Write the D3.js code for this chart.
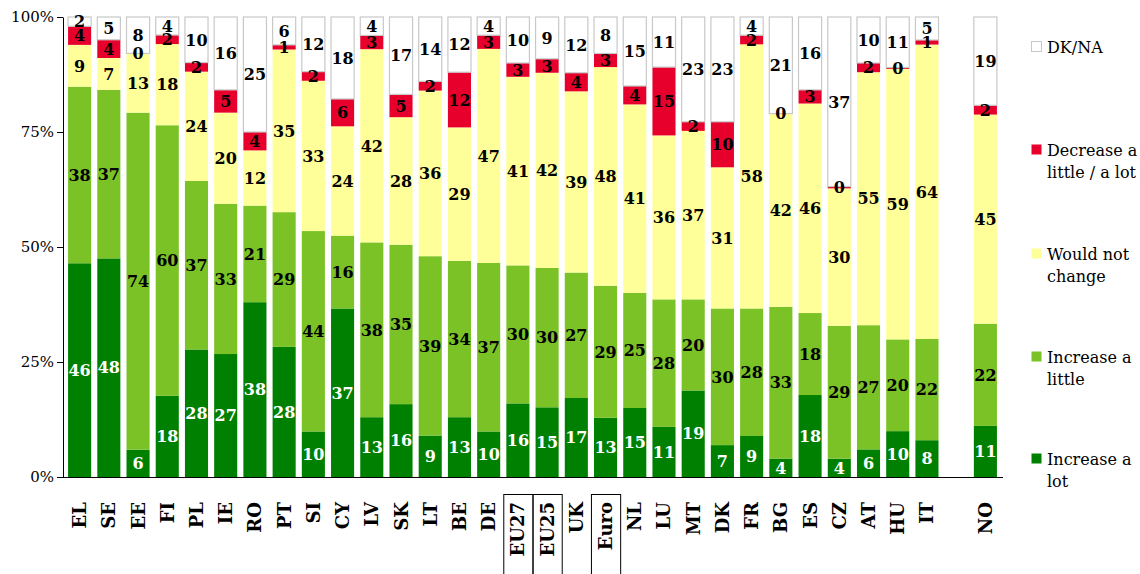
<!DOCTYPE html>
<html><head><meta charset="utf-8">
<script src="https://cdn.jsdelivr.net/npm/d3@7"></script>
<style>body{margin:0;background:#fff}svg{display:block}</style>
</head><body>
<svg id="c" width="1140" height="574"></svg>
<script>
const categories = ["EL","SE","EE","FI","PL","IE","RO","PT","SI","CY","LV","SK","LT","BE","DE","EU27","EU25","UK","Euro","NL","LU","MT","DK","FR","BG","ES","CZ","AT","HU","IT","NO"];
const increaseLot    = [46,48,6,18,28,27,38,28,10,37,13,16,9,13,10,16,15,17,13,15,11,19,7,9,4,18,4,6,10,8,11];
const increaseLittle = [38,37,74,60,37,33,21,29,44,16,38,35,39,34,37,30,30,27,29,25,28,20,30,28,33,18,29,27,20,22,22];
const wouldNot       = [9,7,13,18,24,20,12,35,33,24,42,28,36,29,47,41,42,39,48,41,36,37,31,58,42,46,30,55,59,64,45];
const decrease       = [4,4,0,2,2,5,4,1,2,6,3,5,2,12,3,3,3,4,3,4,15,2,10,2,0,3,0.4,2,0.3,1,2];
const dkna           = [2,5,8,4,10,16,25,6,12,18,4,17,14,12,4,10,9,12,8,15,11,23,23,4,21,16,37,10,11,5,19];
const seriesNames = ["Increase a lot","Increase a little","Would not change","Decrease a little / a lot","DK/NA"];
const seriesKeys = ["lot","little","same","dec","dk"];
const colors = ["#008000","#7ac226","#ffff99","#e8002d","#ffffff"];
const boxed = ["EU27","EU25","Euro"];
const yTicks = [0,0.25,0.5,0.75,1];
const yTickLabels = ["0%","25%","50%","75%","100%"];

const rows = categories.map((c,i)=>({cat:c, lot:increaseLot[i], little:increaseLittle[i], same:wouldNot[i], dec:decrease[i], dk:dkna[i]}));
const stack = d3.stack().keys(seriesKeys).offset(d3.stackOffsetExpand);
const layers = stack(rows);

const svg = d3.select("#c");
const serif = "'DejaVu Serif', serif";
const domain = categories.slice(0,30).concat(["_gap"], categories.slice(30));
const x = d3.scaleBand().domain(domain).range([65,1000]).paddingInner(0.21).paddingOuter(0.105);
const y = d3.scaleLinear().domain([0,1]).range([477,17]);

// bars
layers.forEach((layer,li)=>{
  const g = svg.append("g");
  g.selectAll("rect").data(layer).join("rect")
    .attr("x", d=>x(d.data.cat))
    .attr("width", x.bandwidth())
    .attr("y", d=>y(d[1]))
    .attr("height", d=>Math.max(0, y(d[0])-y(d[1])))
    .attr("fill", colors[li])
    .attr("stroke", li===4 ? "#c8c8c8" : "none")
    .attr("stroke-width", 1.2);
});
// labels
layers.forEach((layer,li)=>{
  const key = seriesKeys[li];
  svg.append("g").selectAll("text").data(layer).join("text")
    .attr("x", d=>x(d.data.cat)+x.bandwidth()/2)
    .attr("y", d=>(y(d[0])+y(d[1]))/2)
    .attr("dy","0.36em")
    .attr("text-anchor","middle")
    .attr("font-family", serif).attr("font-weight","bold").attr("font-size",16)
    .attr("fill", li===0 ? "#fff" : "#000")
    .text(d=>Math.round(d.data[key]));
});

// y axis
const yAxis = svg.append("g").attr("transform","translate(63,0)")
  .call(d3.axisLeft(y).tickValues(yTicks).tickFormat((d,i)=>yTickLabels[i]).tickSize(6).tickSizeOuter(0));
yAxis.select(".domain").attr("stroke","#000");
yAxis.selectAll("line").attr("stroke","#000");
yAxis.selectAll("text").attr("font-family",serif).attr("font-size",15).attr("fill","#000").attr("x",-9);

// x axis line
svg.append("line").attr("x1",63).attr("x2",1003).attr("y1",477.5).attr("y2",477.5).attr("stroke","#000").attr("stroke-width",1.2);

// x labels
svg.append("g").selectAll("text").data(categories).join("text")
  .attr("transform", d=>`translate(${x(d)+x.bandwidth()/2},502) rotate(-90)`)
  .attr("dy","0.36em")
  .attr("text-anchor","end")
  .attr("font-family",serif).attr("font-weight","bold").attr("font-size",18)
  .attr("fill","#000")
  .text(d=>d);

// boxes around aggregate labels
boxed.forEach(c=>{
  const cx = x(c)+x.bandwidth()/2;
  const half = x.step()/2;
  svg.append("rect").attr("x",cx-half+0.5).attr("y",494.5).attr("width",x.step()).attr("height",100)
    .attr("fill","none").attr("stroke","#000").attr("stroke-width",1);
});

// legend
const legY = [47,150,254,357,459];
const legLines = [["DK/NA"],["Decrease a","little / a lot"],["Would not","change"],["Increase a","little"],["Increase a","lot"]];
const legColorIdx = [4,3,2,1,0];
legY.forEach((ly,i)=>{
  const ci = legColorIdx[i];
  svg.append("rect").attr("x",1031.5).attr("y",ly-5.5).attr("width",10).attr("height",10)
    .attr("fill",colors[ci]).attr("stroke", ci===4 ? "#c8c8c8" : "none");
  legLines[i].forEach((t,j)=>{
    svg.append("text").attr("x",1047).attr("y",ly+6+j*22)
      .attr("font-family",serif).attr("font-size",16).attr("fill","#000").text(t);
  });
});
</script>
</body></html>
